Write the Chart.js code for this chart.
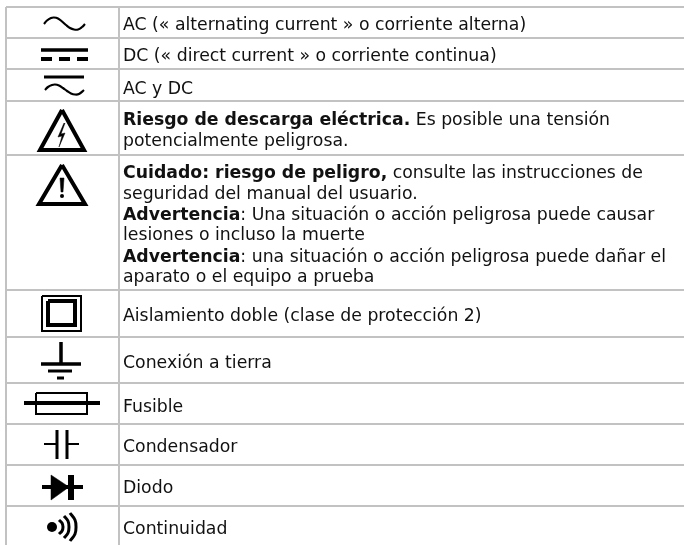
<!DOCTYPE html>
<html>
<head>
<meta charset="utf-8">
<title>Símbolos</title>
<style>
html, body { margin: 0; padding: 0; background: #fff; }
#wrap { width: 684px; height: 545px; }
</style>
<script src="https://cdn.jsdelivr.net/npm/chart.js@4"></script>
</head>
<body>
<div id="wrap"><canvas id="symbols"></canvas></div>
<script>
// table rules, in axis units
const columnLines = [6, 119];
const rowLines = [7, 38, 69, 101, 155, 290, 337, 383, 424, 465, 506];

// text of the right column
const boldParts = ['', '', '', 'Riesgo de descarga eléctrica.', '', 'Cuidado: riesgo de peligro,', '', 'Advertencia', '', 'Advertencia', '', '', '', '', '', '', ''];
const plainParts = [
    'AC (« alternating current » o corriente alterna)',
    'DC (« direct current » o corriente continua)',
    'AC y DC',
    ' Es posible una tensión',
    'potencialmente peligrosa.',
    ' consulte las instrucciones de',
    'seguridad del manual del usuario.',
    ': Una situación o acción peligrosa puede causar',
    'lesiones o incluso la muerte',
    ': una situación o acción peligrosa puede dañar el',
    'aparato o el equipo a prueba',
    'Aislamiento doble (clase de protección 2)',
    'Conexión a tierra',
    'Fusible',
    'Condensador',
    'Diodo',
    'Continuidad'
];
const textBaselines = [30, 61, 94, 125, 146, 178, 199, 220, 240, 262, 282, 321, 368, 412, 452, 493, 534];

// symbols of the left column
const acWave = [[44,24],[47,20.5],[51,18],[54,17.5],[58,18.5],[62,21.5],[66,25],[70,28],[74,29.5],[78,29.5],[82,27],[85,24]];
const dcSolid = [[41,50],[88,50]];
const dcDash1 = [[41,59],[52,59]];
const dcDash2 = [[59,59],[70,59]];
const dcDash3 = [[77,59],[88,59]];
const acdcBar = [[44,77],[84,77]];
const acdcWave = [[45,90],[48,87],[52,85],[55,84.5],[59,85.5],[63,88],[67,91],[71,93.5],[75,94.5],[79,94],[84,90]];
const shockTriangle = [[62,110],[40,150],[84,150],[62,110]];
const shockBolt = [[64,123],[58,137],[62,136],[59,147],[65,133],[61,134],[65,123]];
const cautionTriangle = [[62,165],[39,204],[85,204],[62,165]];
const cautionBar = [[60,178],[64,178],[63,192],[61,192],[60,178]];
const cautionDot = [[62,196]];
const outerSquare = [[42,296],[81,296],[81,331],[42,331],[42,296]];
const innerSquare = [[48,301],[75,301],[75,325],[48,325],[48,301]];
const earthStem = [[61,342],[61,364]];
const earthBar1 = [[41,364],[81,364]];
const earthBar2 = [[48,371],[72,371]];
const earthBar3 = [[57,378],[64,378]];
const fuseBody = [[36,393],[87,393],[87,414],[36,414],[36,393]];
const fuseWire = [[24,403],[100,403]];
const capPlate1 = [[57,430],[57,459]];
const capPlate2 = [[67,430],[67,459]];
const capLead1 = [[44,444],[57,444]];
const capLead2 = [[67,444],[79,444]];
const diodeWire = [[42,487],[83,487]];
const diodeHead = [[51,475],[69,487],[51,500],[51,475]];
const diodeBar = [[71,475],[71,500]];
const contDot = [[52,527]];
const contArc1 = [[59,520],[62,523],[63,527],[62,531],[59,534]];
const contArc2 = [[64,516],[68,521],[69,527],[68,533],[64,538]];
const contArc3 = [[70,513],[75,520],[76,527],[75,534],[70,541]];

function toPoints(list) {
    return list.map(function (p) {
        return { x: p[0], y: p[1] };
    });
}

function stroke(list, width, tension) {
    return {
        data: toPoints(list),
        showLine: true,
        borderColor: '#000',
        borderWidth: width,
        pointRadius: 0,
        tension: tension || 0,
        clip: false
    };
}

function solid(list) {
    let ds = stroke(list, 0.5);
    ds.fill = 'shape';
    ds.backgroundColor = '#000';
    return ds;
}

function dot(list, radius) {
    let ds = stroke(list, 0);
    ds.showLine = false;
    ds.pointRadius = radius;
    ds.pointBackgroundColor = '#000';
    return ds;
}

const rowLabels = {
    id: 'rowLabels',
    afterDraw: function (chart) {
        const ctx = chart.ctx;
        const startX = chart.scales.x.getPixelForValue(123);
        ctx.save();
        ctx.fillStyle = '#111';
        ctx.textBaseline = 'alphabetic';
        plainParts.forEach(function (text, i) {
            const y = chart.scales.y.getPixelForValue(textBaselines[i]);
            let x = startX;
            if (boldParts[i]) {
                ctx.font = 'bold 17.3px "DejaVu Sans"';
                ctx.fillText(boldParts[i], x, y);
                x += ctx.measureText(boldParts[i]).width;
            }
            ctx.font = '17.3px "DejaVu Sans"';
            ctx.fillText(text, x, y);
        });
        ctx.restore();
    }
};

const canvas = document.getElementById('symbols');

new Chart(canvas, {
    type: 'scatter',
    data: {
        datasets: [
            stroke(acWave, 2.2, 0.4),
            stroke(dcSolid, 3.5),
            stroke(dcDash1, 4),
            stroke(dcDash2, 4),
            stroke(dcDash3, 4),
            stroke(acdcBar, 3),
            stroke(acdcWave, 2.2, 0.4),
            stroke(shockTriangle, 4),
            solid(shockBolt),
            stroke(cautionTriangle, 4),
            solid(cautionBar),
            dot(cautionDot, 2),
            stroke(outerSquare, 2),
            stroke(innerSquare, 4),
            stroke(earthStem, 3.5),
            stroke(earthBar1, 3.5),
            stroke(earthBar2, 3),
            stroke(earthBar3, 3),
            stroke(fuseBody, 2),
            stroke(fuseWire, 4),
            stroke(capPlate1, 3),
            stroke(capPlate2, 3),
            stroke(capLead1, 2),
            stroke(capLead2, 2),
            stroke(diodeWire, 4),
            solid(diodeHead),
            stroke(diodeBar, 6),
            dot(contDot, 5),
            stroke(contArc1, 3, 0.4),
            stroke(contArc2, 3, 0.4),
            stroke(contArc3, 3, 0.4)
        ]
    },
    options: {
        responsive: true,
        maintainAspectRatio: false,
        animation: false,
        layout: { autoPadding: false, padding: { left: 6, top: 7, right: 0, bottom: 0 } },
        plugins: {
            legend: { display: false },
            tooltip: { enabled: false }
        },
        scales: {
            x: {
                type: 'linear',
                min: 6,
                max: 684,
                afterBuildTicks: function (axis) {
                    axis.ticks = columnLines.map(function (v) { return { value: v }; });
                },
                ticks: { display: false },
                border: { display: false },
                grid: { color: '#c2c2c2', lineWidth: 2, drawTicks: false, tickLength: 0 }
            },
            y: {
                type: 'linear',
                reverse: true,
                min: 7,
                max: 545,
                afterBuildTicks: function (axis) {
                    axis.ticks = rowLines.map(function (v) { return { value: v }; });
                },
                ticks: { display: false },
                border: { display: false },
                grid: { color: '#c2c2c2', lineWidth: 2, drawTicks: false, tickLength: 0 }
            }
        }
    },
    plugins: [rowLabels]
});
</script>
</body>
</html>
